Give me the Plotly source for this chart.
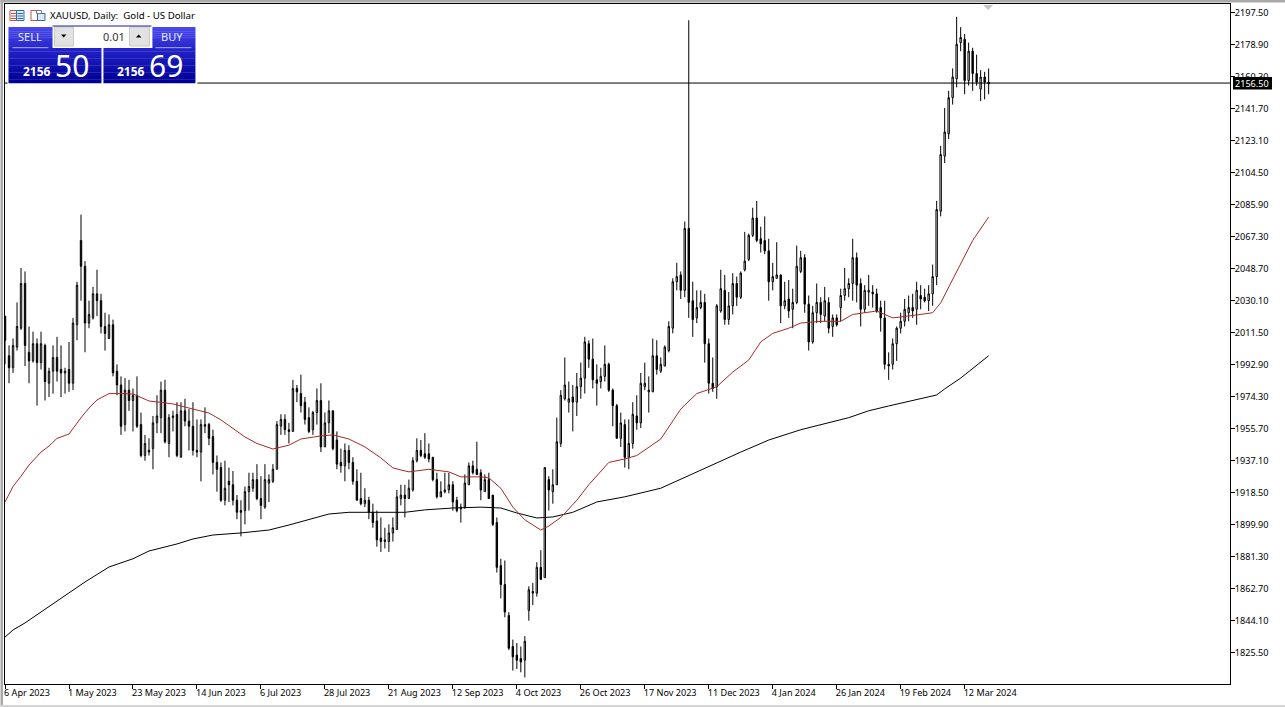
import plotly.graph_objects as go

# ---------- data ----------
directions = ("BBWWWBBWBW" "BWWBBWBWWB" "BWWBBBWBBB" "WBWBBWBWWW" "BWWBWBBBBW"
              "BBBBBWBBBB" "WWWBBWWWWW" "BBWBBBBWWB" "WWBBBWBBBB" "WBBBBWWWWW"
              "BWWWBBBBBW" "WWBBWWWBBB" "WBBBBBBBBB" "WWWWBWBWWW" "WWBWWWBBBW"
              "WBBBWBWWBW" "WWWBWWWWWB" "WBBWWBBBWW" "BWWBWWWWBB" "BBWWBWBWWW"
              "BBWWBWBWBW" "WWWBBWWBBB" "BBWWWWWBWB" "BWWWWWWWWW" "BWBBWBB")
highs = [
 2021,2004,2008,2029,2049,2047,2015,2012,2008,2012,
 2005,1991,2004,2009,2004,1991,2006,2020,2041,2080,
 2053,2030,2038,2048,2034,2023,2022,2019,1993,1986,
 1985,1984,1979,1986,1965,1952,1950,1963,1975,1983,
 1984,1964,1966,1971,1971,1973,1967,1971,1961,1961,
 1968,1959,1955,1940,1936,1937,1933,1931,1917,1914,
 1922,1930,1930,1935,1928,1935,1929,1935,1960,1964,
 1964,1959,1984,1981,1987,1974,1968,1966,1979,1982,
 1965,1972,1966,1954,1944,1947,1946,1939,1932,1930,
 1921,1916,1912,1908,1904,1898,1900,1904,1920,1923,
 1923,1926,1939,1950,1949,1953,1947,1939,1930,1925,
 1930,1930,1925,1916,1912,1929,1936,1937,1948,1932,
 1929,1930,1917,1904,1880,1879,1849,1833,1831,1829,
 1835,1864,1866,1878,1885,1933,1928,1932,1962,1978,
 1997,1983,1981,1988,1994,2009,2007,2008,1993,1991,
 2004,1994,1979,1970,1965,1961,1961,1971,1975,1988,
 1994,1986,2008,2007,1997,2004,2018,2043,2052,2047,
 2076,2193,2041,2036,2036,2034,2008,1997,2028,2048,
 2045,2035,2046,2044,2047,2070,2069,2084,2088,2073,
 2079,2066,2052,2064,2045,2041,2042,2037,2062,2059,
 2057,2033,2027,2040,2032,2038,2032,2022,2022,2037,
 2049,2043,2066,2058,2043,2039,2045,2039,2037,2030,
 2030,2000,2008,2015,2023,2031,2033,2034,2041,2039,
 2037,2039,2051,2088,2120,2142,2152,2165,2195,2189,
 2185,2180,2177,2173,2164,2163,2165]
body_tops = [
 2021,1998,2004,2015,2040,2040,2000,2005,2005,2005,
 2004,1989,1997,1997,1990,1989,1990,2017,2039,2065,
 2050,2022,2034,2034,2030,2015,2016,2016,1989,1981,
 1978,1978,1975,1975,1958,1947,1943,1959,1963,1978,
 1978,1962,1963,1964,1966,1966,1960,1957,1943,1958,
 1958,1958,1951,1936,1933,1921,1925,1923,1914,1908,
 1919,1922,1926,1926,1915,1926,1926,1932,1958,1961,
 1961,1955,1979,1979,1976,1971,1962,1965,1972,1972,
 1959,1966,1966,1949,1936,1943,1943,1936,1925,1915,
 1914,1914,1907,1902,1892,1891,1895,1898,1916,1917,
 1917,1921,1937,1943,1943,1941,1941,1939,1926,1919,
 1920,1923,1923,1914,1910,1924,1934,1934,1932,1930,
 1926,1926,1917,1901,1876,1865,1847,1829,1824,1822,
 1832,1862,1861,1875,1875,1933,1926,1923,1948,1975,
 1981,1973,1974,1980,1985,2006,2005,1996,1984,1986,
 1993,1993,1978,1969,1959,1958,1947,1964,1963,1982,
 1982,1978,1998,1998,1993,2003,2015,2041,2044,2045,
 2072,2072,2030,2026,2029,2029,2005,1982,2027,2037,
 2036,2027,2040,2040,2046,2053,2068,2078,2078,2066,
 2065,2059,2044,2045,2045,2030,2031,2029,2050,2055,
 2055,2028,2023,2029,2029,2030,2029,2020,2020,2033,
 2037,2040,2055,2055,2040,2036,2036,2035,2034,2026,
 2020,1993,2005,2014,2018,2025,2026,2026,2036,2033,
 2032,2034,2044,2083,2115,2128,2148,2160,2179,2183,
 2182,2175,2175,2162,2160,2160,2157]
body_bottoms = [
 2007,1991,1991,2003,2014,2004,1995,1995,1994,1994,
 1983,1982,1989,1989,1988,1988,1982,1982,2016,2050,
 2017,2017,2020,2030,2015,2011,2008,1988,1981,1957,
 1958,1972,1972,1957,1940,1940,1942,1944,1959,1962,
 1948,1947,1962,1940,1939,1960,1957,1943,1942,1942,
 1957,1950,1936,1932,1914,1914,1923,1914,1907,1907,
 1908,1919,1921,1915,1911,1910,1924,1925,1932,1957,
 1955,1954,1954,1977,1969,1961,1954,1955,1965,1945,
 1945,1959,1944,1935,1934,1934,1936,1925,1914,1912,
 1912,1907,1901,1891,1890,1890,1890,1895,1897,1915,
 1915,1915,1920,1937,1940,1939,1938,1926,1916,1916,
 1919,1920,1913,1908,1909,1910,1923,1930,1929,1920,
 1919,1915,1900,1875,1865,1849,1828,1823,1821,1820,
 1821,1850,1860,1860,1868,1869,1920,1919,1923,1947,
 1973,1971,1971,1971,1980,1985,1996,1984,1982,1983,
 1986,1978,1969,1950,1950,1939,1939,1947,1959,1959,
 1980,1977,1977,1990,1989,1992,2001,2014,2041,2036,
 2036,2029,2019,2020,2026,2005,1982,1979,1980,2024,
 2019,2019,2027,2032,2032,2048,2054,2068,2065,2063,
 2059,2041,2041,2043,2027,2027,2024,2025,2029,2047,
 2028,2006,2006,2023,2022,2021,2014,2015,2016,2026,
 2033,2037,2040,2039,2025,2025,2035,2034,2024,2020,
 1993,1992,1993,2005,2014,2018,2023,2024,2025,2031,
 2030,2030,2034,2044,2082,2114,2127,2148,2159,2180,
 2158,2158,2162,2157,2153,2157,2156]
lows = [
 1993,1982,1988,2001,2013,1992,1982,1994,1969,1990,
 1972,1974,1976,1983,1974,1976,1977,1978,2007,2030,
 2000,2014,2019,2021,2011,2001,2008,1986,1975,1952,
 1954,1966,1954,1956,1939,1937,1940,1932,1953,1953,
 1947,1939,1954,1939,1939,1957,1943,1940,1939,1925,
 1953,1946,1929,1919,1913,1911,1913,1911,1903,1893,
 1900,1908,1919,1914,1903,1909,1913,1924,1932,1952,
 1952,1947,1954,1971,1965,1958,1953,1952,1958,1942,
 1945,1953,1943,1932,1930,1925,1932,1923,1914,1911,
 1910,1903,1898,1887,1884,1886,1884,1890,1897,1911,
 1904,1915,1919,1936,1939,1938,1936,1925,1915,1916,
 1918,1918,1908,1907,1901,1909,1923,1929,1929,1914,
 1919,1915,1899,1872,1857,1846,1827,1815,1816,1814,
 1811,1844,1853,1858,1868,1869,1908,1912,1923,1945,
 1972,1965,1954,1963,1973,1976,1991,1979,1969,1979,
 1983,1977,1957,1950,1945,1933,1932,1944,1955,1956,
 1978,1965,1977,1987,1988,1992,2000,2011,2036,2031,
 2032,2020,2009,2017,2025,1994,1976,1977,1973,2023,
 2016,2016,2022,2027,2031,2047,2053,2067,2064,2058,
 2057,2030,2036,2043,2017,2025,2020,2014,2028,2046,
 2023,2001,2005,2017,2017,2018,2011,2009,2015,2018,
 2030,2032,2030,2029,2015,2023,2027,2026,2023,2012,
 1990,1984,1990,1995,2011,2015,2018,2020,2016,2025,
 2029,2024,2027,2039,2079,2110,2124,2144,2154,2175,
 2150,2155,2152,2155,2146,2147,2150]

red_ma_bars = [0,2,4,6,9,11,13,16,19,21,23,26,29,32,36,38,42,46,51,54,57,60,63,67,71,74,79,82,86,90,94,97,
               101,106,111,114,119,121,124,127,130,134,136,139,143,146,151,155,158,164,169,173,178,182,186,
               189,192,196,199,204,209,212,218,222,228,232,234,236,239,242,246]
red_ma_values = [1913,1922,1928,1934.5,1942,1945.5,1950,1952.5,1962,1967.6,1972.3,1976,1976,1975.8,1971.7,1971,
                 1970,1967.6,1964.7,1960.7,1956,1950.8,1947,1943.8,1946,1949.6,1951.4,1952,1949.6,1945,1938.6,
                 1932.8,1930.5,1932,1930.5,1927.6,1927.6,1927,1921,1910,1902.6,1896.7,1899,1904,1914,1923,1936,
                 1938,1940,1949.6,1967,1976,1980,1988.5,1995.5,2006,2011,2014,2017,2018,2018,2022,2024,2020,
                 2021.7,2023,2028.7,2038,2052,2065,2078.6]
black_ma_bars = [0,2,5,14,20,26,32,36,43,47,52,59,66,71,76,81,86,93,100,105,112,119,124,128,133,137,142,148,155,
                 164,174,184,191,199,211,216,221,233,235,239,246]
black_ma_values = [1834.5,1838.6,1842.7,1857.2,1866.5,1875.2,1880,1884.5,1888.6,1891.5,1893.8,1895,1896.7,1899.6,
                   1903,1906,1907,1907,1907,1908.4,1909.5,1910,1909.5,1906.6,1903.7,1904.3,1907,1913,1916,1921,
                   1931.6,1942,1949,1955,1962,1966,1968.8,1975.2,1978.7,1985,1998]

date_tick_bars = [0,16,32,48,64,80,96,112,128,144,160,176,192,208,224,240]
date_tick_labels = ["6 Apr 2023","1 May 2023","23 May 2023","14 Jun 2023","6 Jul 2023","28 Jul 2023",
                    "21 Aug 2023","12 Sep 2023","4 Oct 2023","26 Oct 2023","17 Nov 2023","11 Dec 2023",
                    "4 Jan 2024","26 Jan 2024","19 Feb 2024","12 Mar 2024"]
price_ticks = [2197.5,2178.9,2160.3,2141.7,2123.1,2104.5,2085.9,2067.3,2048.7,2030.1,2011.5,1992.9,1974.3,
               1955.7,1937.1,1918.5,1899.9,1881.3,1862.7,1844.1,1825.5]
last_price = 2156.5
title_text = "XAUUSD, Daily:  Gold - US Dollar"

# ---------- layout geometry ----------
W, H = 1285, 707
L, R, T, B = 4.5, 1230, 4, 684
FONT = "Noto Sans"
AXIS_SIZE = 9.1

def xp(px):
    return (px - L) / (R - L)

def yp(py):
    return (B - py) / (B - T)

shapes, notes = [], []

def rect(x0, y0, x1, y1, fill, line=None, lw=1):
    shapes.append(dict(type="rect", xref="paper", yref="paper", x0=xp(x0), x1=xp(x1), y0=yp(y0), y1=yp(y1),
                       fillcolor=fill, line=dict(color=line or "rgba(0,0,0,0)", width=lw if line else 0),
                       layer="above"))

def seg(x0, y0, x1, y1, color, lw=1):
    shapes.append(dict(type="line", xref="paper", yref="paper", x0=xp(x0), x1=xp(x1), y0=yp(y0), y1=yp(y1),
                       line=dict(color=color, width=lw), layer="above"))

def tri(pts, color):
    path = "M" + " L".join(f"{xp(a):.5f},{yp(b):.5f}" for a, b in pts) + " Z"
    shapes.append(dict(type="path", xref="paper", yref="paper", path=path, fillcolor=color,
                       line=dict(width=0), layer="above"))

def text(px, py, s, size, color="#000000", anchor="left", family=FONT):
    notes.append(dict(xref="paper", yref="paper", x=xp(px), y=yp(py), text=s, showarrow=False, xanchor=anchor,
                      yanchor="middle", font=dict(family=family, size=size, color=color), borderpad=0, borderwidth=0,
                      xshift=0, yshift=0))

def gradient(x0, y0, x1, y1, c_top, c_bot, steps=10):
    for k in range(steps):
        f = k / (steps - 1)
        c = tuple(round(c_top[j] + (c_bot[j] - c_top[j]) * f) for j in range(3))
        a = y0 + (y1 - y0) * k / steps
        b = y0 + (y1 - y0) * (k + 1) / steps
        rect(x0, a, x1, b + 0.3, f"rgb{c}")

# window edges
rect(0, 0, W, 2.5, "#a9a9a9")
rect(0, 0, 2.5, H, "#a9a9a9")
rect(0, 705, W, H, "#d4d4d4")

# last-price line
shapes.append(dict(type="line", xref="paper", yref="y", x0=0, x1=1, y0=last_price, y1=last_price,
                   line=dict(color="#000000", width=1), layer="above"))
# chart-shift marker
tri([(983, 5), (993, 5), (988, 10)], "#c4c4c4")

# one-click trading panel
rect(7, 25, 197, 84.5, "#ffffff")
gradient(8, 27, 52, 48, (72, 72, 235), (40, 40, 205))
gradient(152, 27, 195, 48, (72, 72, 235), (40, 40, 205))
gradient(8, 48, 101, 83, (34, 34, 200), (0, 0, 150))
gradient(103, 48, 195, 83, (34, 34, 200), (0, 0, 150))
seg(12, 47.7, 48, 47.7, "#aab0f5")
seg(155, 47.7, 191, 47.7, "#aab0f5")
rect(54, 27, 73, 46, "#e2e2e2", "#c8c8c8")
rect(129, 27, 149, 46, "#e2e2e2", "#c8c8c8")
seg(52, 26, 151, 26, "#1a1aa0")
tri([(60.5, 34.5), (66, 34.5), (63.2, 37.5)], "#000000")
tri([(135.5, 37.5), (141, 37.5), (138.2, 34.5)], "#000000")
text(125, 36, "0.01", 11, "#333333", "right")
text(29.5, 36.5, "SELL", 11, "#e4e8ff", "center")
text(172, 36.5, "BUY", 11, "#e4e8ff", "center")
text(23, 72, "<b>2156</b>", 12, "#ffffff")
text(55, 65.5, "50", 30, "#ffffff")
text(117, 72, "<b>2156</b>", 12, "#ffffff")
text(149, 65.5, "69", 30, "#ffffff")

# title icons and title
rect(9.5, 10.5, 16, 20.5, "#ffffff", "#c0504d")
rect(16, 10.5, 23.5, 20.5, "#dbe9f7", "#2d6ca8")
for yy in (13.5, 16, 18.5):
    seg(10.5, yy, 15.5, yy, "#c0504d")
    seg(17, yy, 22.5, yy, "#2d6ca8")
rect(30.5, 10.5, 37, 20.5, "#ffffff", "#c0504d")
rect(37, 13.5, 44.5, 20.5, "#dbe9f7", "#2d6ca8")
rect(36, 10.5, 41, 13.5, "#ffffff", "#777777")
text(50, 15.5, title_text, 9.7, "#000000")

# last-price tag
rect(1233, 77, 1272, 89.5, "#000000")
text(1235, 83.5, f"{last_price:.2f}", AXIS_SIZE, "#ffffff")

# ---------- figure ----------
bars = list(range(len(highs)))
opens = [b if d == "W" else t for d, t, b in zip(directions, body_tops, body_bottoms)]
closes = [t if d == "W" else b for d, t, b in zip(directions, body_tops, body_bottoms)]

fig = go.Figure()
fig.add_trace(go.Candlestick(
    x=bars, open=opens, high=highs, low=lows, close=closes, name="XAUUSD", whiskerwidth=0,
    increasing=dict(line=dict(color="#000000", width=1), fillcolor="#ffffff"),
    decreasing=dict(line=dict(color="#000000", width=1), fillcolor="#000000"),
))
fig.add_trace(go.Scatter(x=black_ma_bars, y=black_ma_values, mode="lines", name="MA 200",
                         line=dict(color="#000000", width=1)))
fig.add_trace(go.Scatter(x=red_ma_bars, y=red_ma_values, mode="lines", name="MA 50",
                         line=dict(color="#a52a2a", width=1)))

px_per_bar = 4
x_left = -0.01
fig.update_layout(
    width=W, height=H, autosize=False, showlegend=False, hovermode=False,
    paper_bgcolor="#ffffff", plot_bgcolor="#ffffff", boxgap=0.5,
    margin=dict(l=L, r=W - R, t=T, b=H - B, pad=0, autoexpand=False),
    font=dict(family=FONT, size=10, color="#000000"),
    shapes=shapes, annotations=notes,
    xaxis=dict(range=[x_left, x_left + (R - L) / px_per_bar], rangeslider=dict(visible=False),
               tickmode="array", tickvals=date_tick_bars, ticktext=date_tick_labels, tickangle=0, automargin=False,
               ticklabelposition="outside right", ticklabelshift=-2, ticks="outside", ticklen=4,
               tickcolor="#000000", tickwidth=1,
               showgrid=False, zeroline=False, showline=True, linecolor="#000000", linewidth=1, mirror=True,
               tickfont=dict(family=FONT, size=AXIS_SIZE, color="#000000")),
    yaxis=dict(range=[1807.2, 2202.45], side="right", tickmode="array", tickvals=price_ticks,
               ticktext=[f"{v:.2f}" for v in price_ticks], ticks="outside", ticklen=4, ticklabelstandoff=-2,
               tickcolor="#000000", tickwidth=1, showgrid=False, zeroline=False, showline=True,
               linecolor="#000000", linewidth=1, mirror=True, automargin=False,
               tickfont=dict(family=FONT, size=AXIS_SIZE, color="#000000")),
)
fig.write_html("out.html", config=dict(displayModeBar=False),
               post_script="document.body.style.margin='0';document.body.style.overflow='hidden';")
